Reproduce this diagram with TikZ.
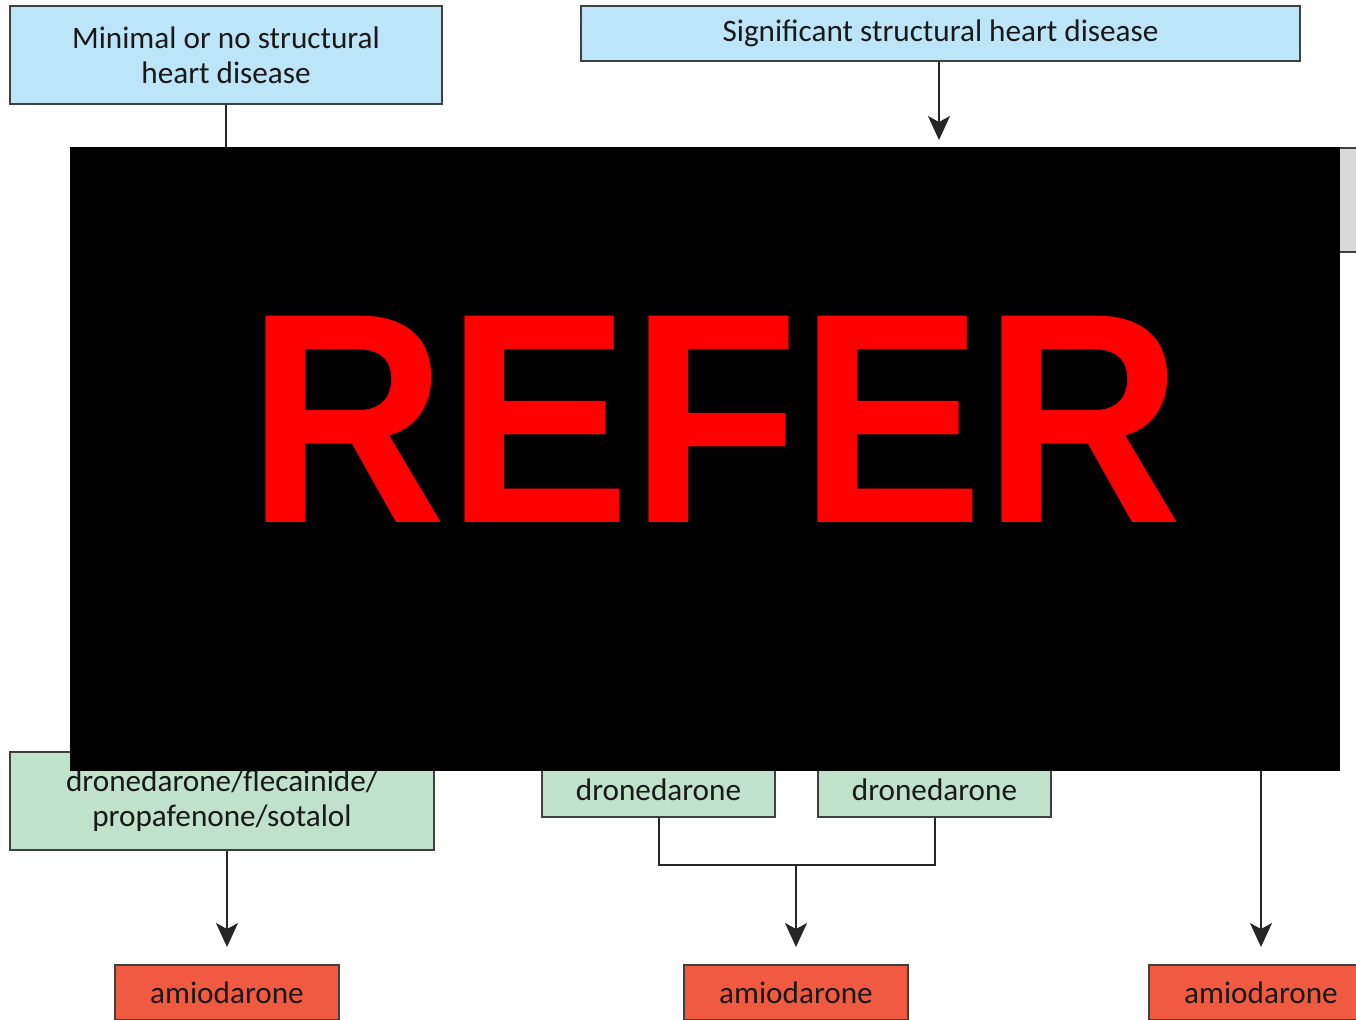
\documentclass[tikz,border=0pt]{standalone}
\usepackage{graphicx}
\usepackage{fontspec}
\setmainfont{Carlito}
\newfontfamily\referfont{Liberation Sans}
\usetikzlibrary{arrows.meta}

\definecolor{heartblue}{HTML}{BDE5F8}
\definecolor{drugmint}{HTML}{C0E2CA}
\definecolor{amiored}{HTML}{F05A40}
\definecolor{sidegrey}{HTML}{D9D9D9}
\definecolor{edgegrey}{HTML}{404040}

\begin{document}
\begin{tikzpicture}[x=0.5pt,y=-0.5pt,
  box/.style={draw=edgegrey, line width=1pt, inner sep=0pt, align=center,
    font=\fontsize{15.6}{17.5}\selectfont, text=black!90},
  heart/.style={box, fill=heartblue},
  drug/.style={box, fill=drugmint},
  last/.style={box, fill=amiored},
  link/.style={draw=black!85, line width=1pt},
  arr/.style={link, -{Stealth[length=12pt,width=11pt,inset=3pt]}, shorten >=8.5pt}]

\useasboundingbox (0,0) rectangle (1356,1019);
\fill[white] (0,0) rectangle (1356,1019);

\node [heart, minimum width=216pt, minimum height=49pt] (minimal) at (226,55)
  {Minimal or no structural\\heart disease};
\node [heart, minimum width=359.5pt, minimum height=27.5pt] (signif) at (940.5,33.5)
  {Significant structural heart disease};
\node [box, fill=sidegrey, minimum width=30pt, minimum height=52pt] (side) at (1355,200) {};

\coordinate (m1) at (226,200);
\coordinate (s1) at (939,157);
\draw [link] (minimal.south) -- (m1);
\draw [arr] (signif.south -| s1) -- (s1);

% hidden part
\node [fill=black, inner sep=0pt, minimum width=635pt, minimum height=312pt] (cover) at (705,459) {};
\node [text=red, inner sep=0pt, font=\referfont\bfseries\fontsize{150}{152}\selectfont] (refer) at (715,419)
  {\scalebox{0.92}[1]{REFER}};

\node [drug, minimum width=212pt, minimum height=49pt] (combo) at (222,801)
  {dronedarone/flecainide/\\propafenone/sotalol};
\node [drug, minimum width=116.5pt, minimum height=27.5pt] (drone1) at (658.5,789.5) {dronedarone};
\node [drug, minimum width=116.5pt, minimum height=27.5pt] (drone2) at (934.5,789.5) {dronedarone};
\fill [black] (70,740) rectangle (1340,771);

\node [last, minimum width=112pt, minimum height=27.5pt] (amio1) at (227,992.5) {amiodarone};
\node [last, minimum width=112pt, minimum height=27.5pt] (amio2) at (796,992.5) {amiodarone};
\node [last, minimum width=112pt, minimum height=27.5pt] (amio3) at (1261,992.5) {amiodarone};

\coordinate (j1) at (796,865);
\coordinate (r1) at (1261,771);
\draw [arr] (combo.south -| amio1.north) -- (amio1.north);
\draw [link] (drone1.south) |- (j1) -| (drone2.south);
\draw [arr] (j1) -- (amio2.north);
\draw [arr] (r1) -- (amio3.north);
\end{tikzpicture}
\end{document}
